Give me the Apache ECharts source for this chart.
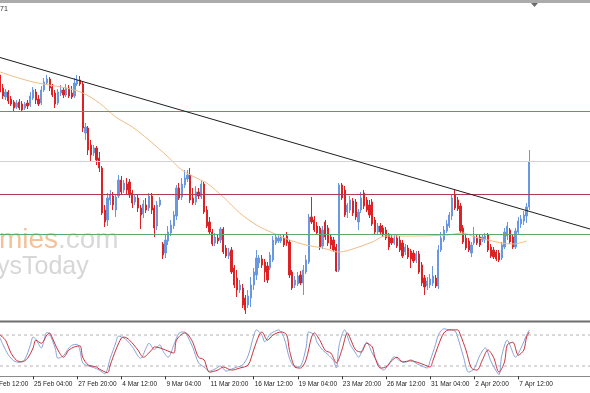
<!DOCTYPE html>
<html><head><meta charset="utf-8">
<script src="https://cdn.jsdelivr.net/npm/echarts@6/dist/echarts.min.js"></script>
<style>html,body{margin:0;padding:0;background:#fff;overflow:hidden}#c{width:590px;height:393px}</style>
</head><body><div id="c"></div><script>
// ---- data (prices in pips, i.e. price*10000); bar numbers count 4-hour bars from 20 Feb 12:00 ----
const tickLabels = ['20 Feb 12:00','25 Feb 04:00','27 Feb 20:00','4 Mar 12:00','9 Mar 04:00','11 Mar 20:00','16 Mar 12:00','19 Mar 04:00','23 Mar 20:00','26 Mar 12:00','31 Mar 04:00','2 Apr 20:00','7 Apr 12:00'];
const firstBar = 4, lastBar = 218;
const openP = [11045,11032,11023,11028,11021,11018,11013,11018,11016,11012,11017,11015,11022,11028,11021,11017,11030,11037,11041,11033,11027,11017,11027,11030,11025,11032,11027,11024,11036,11040,11036,10987,10992,10975,10967,10972,10962,10952,10910,10900,10920,10924,10910,10924,10940,10930,10936,10938,10927,10918,10922,10912,10906,10915,10912,10924,10912,10894,10915,10876,10867,10879,10887,10894,10904,10932,10923,10935,10941,10945,10922,10918,10928,10923,10936,10910,10898,10888,10877,10882,10880,10891,10872,10864,10870,10852,10842,10830,10832,10822,10815,10822,10835,10845,10857,10861,10858,10854,10852,10860,10877,10879,10879,10882,10884,10878,10848,10835,10836,10845,10837,10848,10858,10903,10900,10894,10892,10874,10898,10892,10883,10880,10873,10850,10935,10930,10908,10910,10919,10918,10898,10910,10927,10920,10915,10918,10900,10888,10894,10892,10890,10885,10882,10877,10882,10880,10877,10868,10872,10869,10867,10860,10866,10855,10842,10834,10835,10837,10842,10834,10870,10880,10889,10894,10904,10925,10920,10914,10892,10882,10879,10867,10877,10882,10883,10880,10880,10885,10873,10870,10868,10867,10862,10873,10884,10890,10883,10873,10888,10896,10899,10904,10913];
const closeP = [11028,11024,11028,11019,11016,11012,11017,11012,11010,11016,11014,11024,11030,11020,11016,11030,11038,11041,11032,11025,11016,11028,11030,11025,11032,11024,11023,11037,11040,11036,10992,10993,10970,10965,10972,10960,10952,10907,10898,10922,10925,10915,10923,10940,10928,10937,10930,10925,10917,10923,10912,10905,10916,10910,10924,10910,10892,10915,10920,10865,10880,10888,10895,10905,10932,10922,10936,10942,10945,10920,10917,10928,10924,10936,10908,10894,10888,10876,10883,10879,10891,10868,10864,10868,10848,10835,10830,10835,10815,10810,10824,10835,10848,10862,10862,10855,10848,10840,10865,10880,10883,10882,10883,10875,10877,10845,10832,10840,10844,10837,10850,10860,10903,10898,10890,10887,10873,10890,10883,10877,10875,10870,10849,10935,10922,10905,10915,10920,10907,10903,10908,10922,10914,10910,10905,10896,10888,10894,10888,10886,10882,10873,10877,10882,10874,10870,10864,10873,10863,10861,10859,10866,10848,10837,10833,10839,10841,10844,10834,10870,10882,10890,10896,10905,10922,10912,10911,10889,10878,10872,10870,10875,10884,10877,10875,10883,10884,10870,10864,10863,10861,10860,10875,10888,10894,10878,10873,10889,10899,10901,10905,10913,10958];
const lowP = [11026,11021,11020,11016,11014,11009,11011,11010,11009,11010,11011,11013,11020,11016,11014,11015,11028,11035,11029,11023,11012,11015,11024,11022,11023,11022,11021,11022,11034,11034,10988,10980,10965,10958,10964,10955,10948,10905,10893,10894,10915,10910,10903,10922,10925,10927,10925,10922,10912,10915,10908,10891,10902,10907,10909,10906,10883,10890,10913,10861,10862,10875,10884,10891,10900,10920,10920,10932,10938,10917,10915,10915,10921,10921,10906,10892,10885,10874,10874,10876,10877,10866,10862,10861,10846,10832,10823,10827,10812,10806,10812,10813,10830,10840,10852,10852,10838,10837,10850,10858,10875,10877,10877,10873,10874,10842,10830,10832,10834,10835,10825,10846,10856,10896,10888,10885,10870,10871,10880,10874,10871,10868,10848,10848,10920,10903,10902,10907,10904,10900,10890,10907,10911,10908,10902,10894,10886,10886,10885,10883,10880,10870,10875,10875,10872,10868,10862,10865,10861,10852,10857,10857,10846,10834,10825,10830,10832,10834,10832,10831,10868,10878,10887,10892,10900,10910,10909,10887,10876,10870,10868,10863,10875,10875,10873,10878,10877,10868,10862,10861,10859,10858,10860,10871,10880,10876,10871,10871,10886,10892,10895,10897,10910];
const highP = [11048,11036,11031,11030,11024,11020,11020,11021,11019,11018,11020,11028,11033,11031,11025,11034,11042,11045,11043,11036,11030,11031,11035,11033,11036,11035,11034,11042,11045,11044,11038,10997,10994,10980,10975,10974,10968,10954,10915,10927,10930,10928,10925,10945,10944,10940,10942,10941,10930,10925,10925,10915,10920,10922,10927,10927,10915,10919,10923,10878,10885,10894,10900,10909,10935,10937,10942,10950,10950,10952,10932,10934,10932,10940,10938,10914,10903,10891,10887,10886,10893,10893,10875,10872,10873,10855,10850,10840,10836,10825,10830,10843,10852,10870,10865,10865,10861,10858,10868,10884,10886,10885,10886,10885,10888,10880,10850,10844,10848,10849,10855,10865,10906,10923,10904,10898,10894,10894,10900,10895,10885,10883,10876,10937,10937,10934,10917,10924,10922,10921,10911,10928,10930,10923,10920,10921,10903,10897,10897,10895,10893,10887,10885,10885,10885,10884,10880,10876,10875,10871,10870,10869,10869,10858,10845,10843,10846,10854,10845,10875,10888,10894,10900,10908,10926,10931,10923,10917,10895,10885,10882,10878,10893,10885,10886,10886,10887,10887,10876,10873,10870,10870,10878,10892,10898,10892,10886,10892,10903,10905,10909,10917,10970];
// moving average readings [bar, pips]
const maPoints = [[4,11048],[16,11038],[28,11032],[34,11027],[40,11017],[46,11003],[52,10993],[58,10980],[65,10963],[70,10950],[76,10941],[79,10937],[85,10923],[91,10907],[97,10895],[103,10887],[109,10880],[115,10875],[121,10872],[127,10868],[133,10872],[139,10878],[144,10884],[154,10884],[166,10885],[172,10887],[176,10883],[181,10880],[186,10877],[190,10876],[195,10879]];
// horizontal levels and trendline (pips)
const levels = [
  {name: 'resistance', value: 11008.5, color: '#e0566a'},
  {name: 'high', value: 10958.5, color: '#d2d2d2'},
  {name: 'pivot', value: 10925.5, color: '#b03a50'},
  {name: 'support', value: 10885.5, color: '#5ea872'}
];
const trendStart = [4, 11062.5], trendEnd = [218, 10891];
// stochastic readings [bar, value]
const stochK = [[4,75],[5,62],[7,42],[9,30],[11,27],[13,33],[15,60],[16,76],[17,72],[19,55],[20,70],[21,85],[22,82],[24,55],[25,35],[27,40],[29,55],[30,60],[32,62],[33,50],[34,26],[36,20],[38,17],[40,12],[42,5],[44,35],[46,65],[47,78],[49,74],[50,70],[52,57],[55,35],[57,55],[58,64],[60,52],[62,61],[63,50],[65,37],[67,60],[69,84],[71,86],[72,78],[74,55],[76,26],[78,18],[80,10],[82,14],[84,20],[86,10],[88,14],[90,18],[92,22],[94,40],[96,78],[97,90],[99,80],[100,67],[102,82],[104,88],[105,90],[107,75],[109,35],[111,18],[113,20],[115,55],[116,86],[118,80],[119,66],[121,51],[123,42],[125,30],[126,16],[127,60],[129,90],[131,62],[133,45],[134,37],[136,58],[137,66],[139,45],[141,26],[143,12],[145,22],[147,38],[149,30],[151,27],[153,32],[155,25],[157,20],[159,16],[160,30],[162,62],[163,80],[165,92],[167,90],[169,88],[170,76],[172,40],[174,8],[176,15],[178,40],[180,55],[182,30],[184,10],[185,3],[186,40],[188,70],[189,60],[191,37],[193,55],[195,80],[196,90]];
const stochD = [[4,80],[6,70],[8,45],[10,31],[12,28],[14,35],[16,55],[17,70],[19,64],[21,80],[22,84],[23,74],[25,51],[27,37],[29,51],[31,57],[33,59],[34,37],[36,22],[39,18],[40,14],[43,7],[44,22],[46,51],[48,74],[49,76],[51,70],[54,51],[56,37],[59,51],[60,57],[62,55],[64,51],[67,45],[68,70],[71,84],[72,82],[74,65],[76,37],[78,32],[80,8],[83,12],[85,18],[88,12],[91,16],[94,22],[96,51],[98,80],[99,86],[101,70],[103,80],[106,86],[108,80],[109,50],[111,18],[113,16],[115,32],[117,76],[118,84],[120,70],[122,50],[124,45],[126,26],[128,51],[130,84],[131,74],[133,51],[135,47],[137,64],[139,57],[140,37],[142,16],[144,18],[146,30],[148,37],[150,28],[153,30],[156,26],[158,22],[160,18],[161,30],[163,60],[165,84],[167,90],[170,90],[171,80],[173,51],[175,16],[177,12],[179,32],[181,51],[183,37],[185,8],[187,28],[188,61],[190,66],[192,41],[194,51],[195,76],[196,86]];
const stochLevels = [80, 20];

// ---- build ----
const N = lastBar - firstBar + 1;
const cats = Array.from({length: N}, (_, j) => String(j + firstBar));
const candles = cats.map((_, j) => j < openP.length ? [openP[j] / 1e4, closeP[j] / 1e4, lowP[j] / 1e4, highP[j] / 1e4] : '-');
const toIdx = (arr, scale) => arr.map(p => [p[0] - firstBar, p[1] / scale]);
const isTick = j => (j + firstBar) % 16 === 0 && j + firstBar <= 192;
const FONT = 'Liberation Sans, Arial, sans-serif';
const W = 590;
const step = W / (N - 1);
const firstTickX = (0 - firstBar) * step; // tick of bar 0 lies left of the canvas

const flatLine = (name, v, color, xi, yi, dash, z) => ({
  name: name, type: 'line', xAxisIndex: xi, yAxisIndex: yi, data: [[0, v], [N - 1, v]], showSymbol: false, silent: true, z: z,
  color: color, itemStyle: {color: color},
  lineStyle: {color: color, width: 1, type: dash || 'solid', opacity: 1}
});

const series = [];
series.push({type: 'candlestick', xAxisIndex: 0, yAxisIndex: 0, data: candles, barWidth: 1.7, z: 3,
  itemStyle: {color: '#6a98e0', color0: '#dc2224', borderColor: '#6a98e0', borderColor0: '#dc2224', borderWidth: 1}});
series.push({type: 'line', xAxisIndex: 0, yAxisIndex: 0, data: toIdx(maPoints, 1e4), showSymbol: false, smooth: 0.35, z: 4,
  lineStyle: {color: '#f0bb84', width: 1}});
levels.forEach(l => series.push(flatLine(l.name, l.value / 1e4, l.color, 0, 0, null, 5)));
series.push({type: 'line', xAxisIndex: 0, yAxisIndex: 0, silent: true, showSymbol: false, z: 5,
  data: [[trendStart[0] - firstBar, trendStart[1] / 1e4], [trendEnd[0] - firstBar, trendEnd[1] / 1e4]],
  lineStyle: {color: '#1e1e1e', width: 1}});
stochLevels.forEach(v => series.push(flatLine('level' + v, v, '#b4b4b4', 1, 1, [3, 3], 2)));
series.push({type: 'line', xAxisIndex: 1, yAxisIndex: 1, data: toIdx(stochK, 1), showSymbol: false, smooth: 0.3, z: 3,
  lineStyle: {color: '#86a2d6', width: 1}});
series.push({type: 'line', xAxisIndex: 1, yAxisIndex: 1, data: toIdx(stochD, 1), showSymbol: false, smooth: 0.3, z: 4,
  lineStyle: {color: '#c8323e', width: 1}});

const chart = echarts.init(document.getElementById('c'), null, {renderer: 'canvas'});
chart.setOption({
  animation: false,
  backgroundColor: '#ffffff',
  grid: [
    {left: 0, right: 0, top: 3, height: 317},
    {left: 0, right: 0, top: 324.7, height: 51.6}
  ],
  xAxis: [
    {type: 'category', gridIndex: 0, data: cats, boundaryGap: false, show: false},
    {type: 'category', gridIndex: 1, data: cats, boundaryGap: false,
      axisLine: {show: true, lineStyle: {color: '#8a8a8a', width: 1}},
      axisTick: {show: true, length: 3, interval: isTick, lineStyle: {color: '#333'}},
      axisLabel: {show: true, interval: isTick, align: 'left', margin: 4,
        padding: [0, 0, 0, 1], fontSize: 6.5, fontFamily: FONT, color: '#222',
        formatter: (v) => tickLabels[Math.round(Number(v) / 16)] || ''},
      splitLine: {show: false}}
  ],
  yAxis: [
    {type: 'value', gridIndex: 0, min: 1.08, max: 1.1117, show: false, splitLine: {show: false}},
    {type: 'value', gridIndex: 1, min: 0, max: 100, show: false, splitLine: {show: false}}
  ],
  series: series,
  graphic: [
    {type: 'text', z: 0, x: -1, y: 240, style: {text: 'mies', font: '28px ' + FONT, fill: '#f5c19b', verticalAlign: 'middle'}},
    {type: 'text', z: 0, x: 58, y: 240, style: {text: '.com', font: '28px ' + FONT, fill: '#d9d9d9', verticalAlign: 'middle'}},
    {type: 'text', z: 0, x: -3, y: 267, style: {text: 'ysToday', font: '25px ' + FONT, fill: '#d7d7d7', verticalAlign: 'middle'}},
    {type: 'rect', z: 100, shape: {x: 0, y: 0, width: 590, height: 3}, style: {fill: '#ababab'}},
    {type: 'polygon', z: 101, shape: {points: [[531, 3], [538, 3], [534.5, 7]]}, style: {fill: '#6a6a6a'}},
    {type: 'rect', z: 100, shape: {x: 0, y: 320.5, width: 590, height: 2}, style: {fill: '#6e6e6e'}},
    {type: 'text', z: 100, x: 0, y: 9, style: {text: '71', font: '7px ' + FONT, fill: '#333', verticalAlign: 'middle'}},
    // first tick label of the axis, whose tick lies just left of the visible area
    {type: 'text', z: 100, x: firstTickX + 1, y: 384, style: {text: tickLabels[0], font: '6.5px ' + FONT, fill: '#222', verticalAlign: 'middle'}}
  ]
});
</script></body></html>
